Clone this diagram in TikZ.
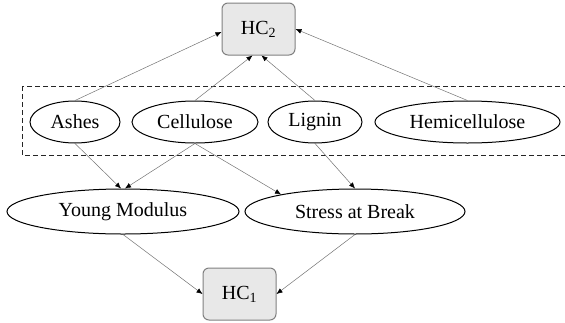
\documentclass[tikz,border=0pt]{standalone}
\usepackage{fontspec}
\setmainfont{Liberation Serif}
\usepackage{tikz}
\usetikzlibrary{shapes,arrows,arrows.meta}
\tikzstyle{factor} = [ellipse, draw, line width=1pt, minimum height=42pt,
    inner sep=0pt, font=\fontsize{20}{23}\selectfont]
\tikzstyle{property} = [ellipse, draw, line width=1pt, minimum width=232pt,
    minimum height=45pt, inner sep=0pt, font=\fontsize{20}{23}\selectfont]
\tikzstyle{hc} = [rectangle, draw=black!50, fill=black!9, line width=1pt,
    rounded corners=6pt, minimum width=73pt, minimum height=52pt,
    font=\fontsize{20}{23}\selectfont]
\tikzstyle{line} = [draw, line width=0.5pt, color=black!55,
    -{Latex[black, length=6pt, width=5pt]}]

\begin{document}
\begin{tikzpicture}[x=1pt, y=1pt]
    \useasboundingbox (0,0) rectangle (565,-322);

    % Place nodes
    \node [hc] (hcTwo) at (258.5,-29) {HC\textsubscript{2}};
    \node [factor, minimum width=90pt] (ashes) at (75,-122) {Ashes};
    \node [factor, minimum width=126pt, right of=ashes, node distance=120pt] (cellulose) {Cellulose};
    \node [factor, minimum width=94pt, right of=cellulose, node distance=120pt] (lignin) {Lignin};
    \node [factor, minimum width=185pt, right of=lignin, node distance=152.5pt] (hemicellulose) {Hemicellulose};
    \node [property] (youngModulus) at (123,-211.5) {Young Modulus};
    \node [property, minimum width=220pt, right of=youngModulus, node distance=232pt] (stressBreak) {Stress at Break};
    \node [hc] (hcOne) at (239.5,-294) {HC\textsubscript{1}};

    % Group of raw components
    \draw [dashed, line width=1pt, color=black!85, dash pattern=on 5pt off 3pt]
        (22,-86) rectangle (570,-155);

    % Draw edges
    \path [line] (ashes.north) -- ([yshift=-3pt]hcTwo.west);
    \path [line] (cellulose.north) -- ([xshift=-6pt]hcTwo.south);
    \path [line] (lignin.north) -- ([xshift=3pt]hcTwo.south);
    \path [line] (hemicellulose.north) -- (hcTwo.east);
    \path [line] (ashes.south) -- ([xshift=-2pt]youngModulus.north);
    \path [line] (cellulose.south) -- ([xshift=2pt]youngModulus.north);
    \path [line] (cellulose.south) -- (stressBreak.167);
    \path [line] (lignin.south) -- (stressBreak.north);
    \path [line] (youngModulus.south) -- (hcOne.west);
    \path [line] (stressBreak.south) -- (hcOne.east);

\end{tikzpicture}
\end{document}
